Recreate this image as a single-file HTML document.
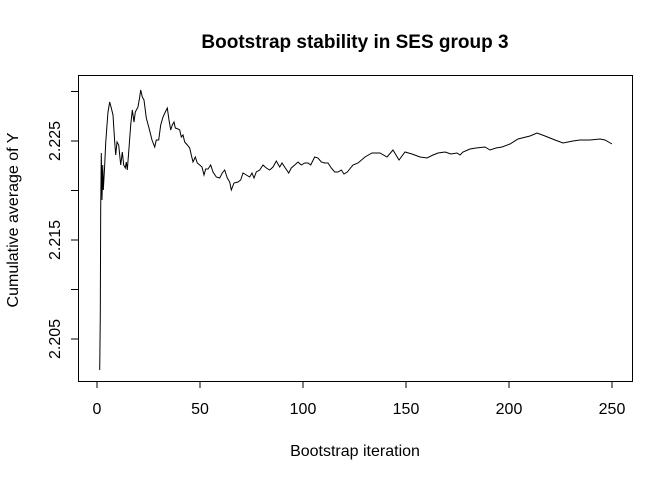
<!DOCTYPE html>
<html><head><meta charset="utf-8"><style>html,body{margin:0;padding:0;background:#fff}</style></head><body>
<svg width="672" height="480" viewBox="0 0 672 480" xmlns="http://www.w3.org/2000/svg" font-family="Liberation Sans, sans-serif">
<rect width="672" height="480" fill="#fff"/>
<text x="355" y="48" text-anchor="middle" font-size="19" font-weight="bold">Bootstrap stability in SES group 3</text>
<rect x="78.5" y="75.5" width="554" height="306" fill="none" stroke="#000" stroke-width="1"/>
<g stroke="#000" stroke-width="1">
<line x1="97" y1="381" x2="97" y2="388"/><line x1="200" y1="381" x2="200" y2="388"/><line x1="303" y1="381" x2="303" y2="388"/><line x1="406" y1="381" x2="406" y2="388"/><line x1="509" y1="381" x2="509" y2="388"/><line x1="612" y1="381" x2="612" y2="388"/>
<line x1="78" y1="339" x2="71" y2="339"/><line x1="78" y1="289.5" x2="71" y2="289.5"/><line x1="78" y1="240" x2="71" y2="240"/><line x1="78" y1="190.5" x2="71" y2="190.5"/><line x1="78" y1="141" x2="71" y2="141"/><line x1="78" y1="91.5" x2="71" y2="91.5"/>
</g>
<g font-size="16" text-anchor="middle">
<text x="97" y="414">0</text><text x="200" y="414">50</text><text x="303" y="414">100</text><text x="406" y="414">150</text><text x="509" y="414">200</text><text x="612" y="414">250</text>
<text transform="translate(60,339) rotate(-90)">2.205</text>
<text transform="translate(60,240) rotate(-90)">2.215</text>
<text transform="translate(60,141) rotate(-90)">2.225</text>
<text x="355" y="456">Bootstrap iteration</text>
<text transform="translate(18,220) rotate(-90)">Cumulative average of Y</text>
</g>
<polyline fill="none" stroke="#000" stroke-width="1" points="99.7,370 100.3,315 100.7,208 101.3,153 102,200 102.7,165 103.3,190 104.7,165 105.7,143 107,125 108,112 109.7,102 111.3,108 113,115 114.7,142 115.7,155 117,142 118.7,145 120.7,165 122.3,152 123.7,165 125.3,168 126.3,162 127.3,170 128.7,152 130.7,125 132.3,110 134,122 135.3,112 138,107 139.7,97 140.7,90 142.3,97 144,100 146.3,118 149,128 152,140 154.7,147 156.3,140 158.7,140 160.7,125 163,117 165.3,112 167.3,108 169,120 170.7,130 172.3,125 174,122 175.3,128 178,129 179.7,130 181.3,137 183,135 184.7,142 187.3,145 189.7,148 191.3,155 193,162 195.3,157 197.3,163 199.7,165 202,167 204,175 205.7,169 208,169 210.7,165 213,172 216.3,177 219.7,178 222.3,173 224.7,170 227.3,178 229.7,182 231.3,190 234,183 238,182 240.7,180 243,173 246.3,175 249.7,177 252,173 254,178 256.3,172 259.7,170 263,165 266.3,168 269.7,170 273,167 276.3,161 279.7,167 282,163 285.3,168 288.7,173 291.3,168 294.7,165 298,162 301.3,165 304.7,163 308,163 310.7,165 314.7,157 318,158 321.3,162 324.7,163 328,163 331.3,168 334.7,172 338,172 341.3,170 344,174 347.3,172 349.7,169 353,165 358,163 365,157 372,153 380,153 387,157 393,150 399,160 405,152 412,154 420,157 427,158 433,155 438,153 445,152 451,154 457,153 460,155 463,152 470,149 476,148 485,147 490,150 496,148 502,147 510,144 518,139 530,136 537,133 545,136 555,140 563,143 573,141 580,140 590,140 600,139 605,140 612,144"/>
</svg>
</body></html>
